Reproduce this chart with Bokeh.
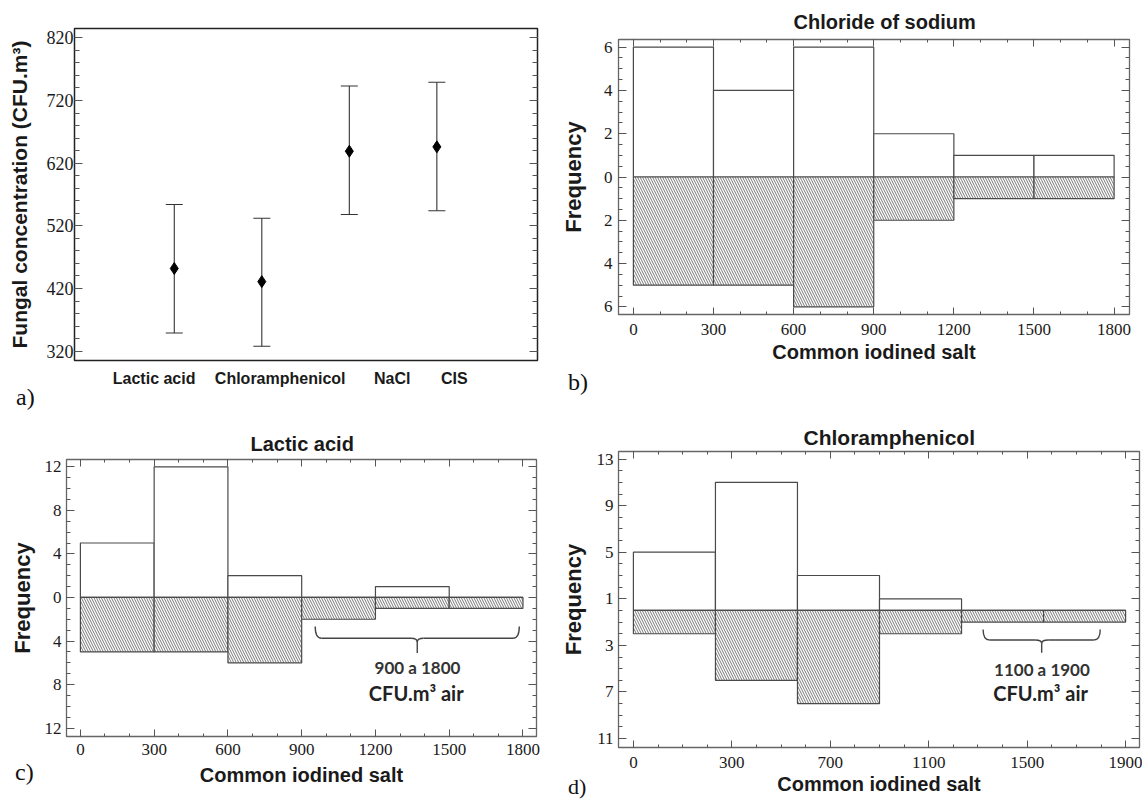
import numpy as np
from bokeh.plotting import figure
from bokeh.models import (Range1d, LinearAxis, FixedTicker, Whisker, ColumnDataSource,
                          Label, TeeHead, CustomJSTickFormatter, Plot, Div)
from bokeh.layouts import column, row
from bokeh.embed import file_html
from bokeh.resources import INLINE

# ---------------- data ----------------
# panel a : mean fungal concentration with error bars
treatments = ["Lactic acid", "Chloramphenicol", "NaCl", "CIS"]
conc_mean = [452, 431, 639, 646]
conc_upper = [554, 532, 743, 749]
conc_lower = [349, 328, 538, 544]

# panel b : Chloride of sodium (top) vs Common iodined salt (bottom)
bins_b = [0, 300, 600, 900, 1200, 1500, 1800]
freq_nacl = [6, 4, 6, 2, 1, 1]
freq_cis_b = [5, 5, 6, 2, 1, 1]

# panel c : Lactic acid (top) vs Common iodined salt (bottom)
bins_c = [0, 300, 600, 900, 1200, 1500, 1800]
freq_lactic = [5, 12, 2, 0, 1, 0]
freq_cis_c = [5, 5, 6, 2, 1, 1]

# panel d : Chloramphenicol (top) vs Common iodined salt (bottom)
bins_d = [0, 316.7, 633.3, 950, 1266.7, 1583.3, 1900]
freq_chlor = [5, 11, 3, 1, 0, 0]
freq_cis_d = [2, 6, 8, 2, 1, 1]
d_tick_labels = ["0", "300", "700", "1100", "1500", "1900"]

# ---------------- style ----------------
TICK_FONT = "Liberation Sans Narrow"
BOLD_FONT = "Liberation Sans"
FRAME = "#666666"
BAR = "#4a4a4a"
TXT = "#1a1a1a"
HAS_FRAME_ALIGN = "frame_align" in Plot.properties()

abs_fmt = CustomJSTickFormatter(code="return Math.abs(tick).toString();")


def style_axis(ax, label_size="17px", tick_in=8, minor_in=4, show_labels=True, standoff=5):
    ax.major_tick_in = tick_in
    ax.major_tick_out = 0
    ax.minor_tick_in = minor_in
    ax.minor_tick_out = 0
    ax.axis_line_color = FRAME
    ax.major_tick_line_color = "#555555"
    ax.minor_tick_line_color = "#555555"
    ax.major_label_text_font = TICK_FONT
    ax.major_label_standoff = standoff
    if show_labels:
        ax.major_label_text_font_size = label_size
        ax.major_label_text_color = TXT
    else:
        ax.major_label_text_font_size = "1px"
        ax.major_label_text_color = None
        ax.major_label_standoff = 0
        ax.axis_label_standoff = 0


def base_fig(width, height, left, right, top, bottom, xr, yr):
    p = figure(width=width, height=height, x_range=Range1d(*xr), y_range=Range1d(*yr),
               output_backend="svg", toolbar_location=None,
               min_border_left=left, min_border_right=right,
               min_border_top=top, min_border_bottom=bottom)
    if HAS_FRAME_ALIGN:
        p.frame_align = False
    p.grid.visible = False
    p.outline_line_color = FRAME
    p.outline_line_width = 1.3
    p.background_fill_color = "white"
    p.border_fill_color = "white"
    return p


def style_title(p, text, offset, standoff, size):
    p.title.text = text
    p.title.align = "left"
    p.title.offset = offset
    p.title.standoff = standoff
    p.title.text_font = BOLD_FONT
    p.title.text_font_style = "bold"
    p.title.text_font_size = size
    p.title.text_color = TXT


def hist_fig(width, height, left, right, top, bottom, xr, yr, bins, up, down,
             xticks, xminor, yticks, yminor, xlab_standoff, ylab_standoff,
             xlabel_std, ylabel_std, x_overrides=None):
    p = base_fig(width, height, left, right, top, bottom, xr, yr)
    xa = p.xaxis[0]
    ya = p.yaxis[0]
    xt = FixedTicker(ticks=list(xticks), minor_ticks=list(xminor))
    yt = FixedTicker(ticks=list(yticks), minor_ticks=list(yminor))
    xa.ticker = xt
    ya.ticker = yt
    ya.formatter = abs_fmt
    if x_overrides:
        xa.major_label_overrides = x_overrides
    style_axis(xa, tick_in=7, minor_in=3, standoff=xlab_standoff)
    style_axis(ya, tick_in=8, minor_in=4, standoff=ylab_standoff)

    xa.axis_label = "Common iodined salt"
    ya.axis_label = "Frequency"
    for ax, std, size in ((xa, xlabel_std, "20px"), (ya, ylabel_std, "22px")):
        ax.axis_label_text_font = BOLD_FONT
        ax.axis_label_text_font_style = "bold"
        ax.axis_label_text_font_size = size
        ax.axis_label_text_color = TXT
        ax.axis_label_standoff = std

    top_ax = LinearAxis(ticker=xt)
    right_ax = LinearAxis(ticker=yt)
    style_axis(top_ax, tick_in=7, minor_in=3, show_labels=False)
    style_axis(right_ax, tick_in=8, minor_in=4, show_labels=False)
    p.add_layout(top_ax, "above")
    p.add_layout(right_ax, "right")

    left_e = bins[:-1]
    right_e = bins[1:]
    p.quad(left=left_e, right=right_e, bottom=0, top=up, fill_color="white",
           line_color=BAR, line_width=1.2)
    p.quad(left=left_e, right=right_e, top=0, bottom=[-v for v in down],
           fill_color="white", hatch_pattern="\\", hatch_color="#555555",
           hatch_scale=5, hatch_weight=0.8, line_color=BAR, line_width=1.2)
    return p


def add_text(p, x, y, text, size, font=BOLD_FONT, style="bold", align="center", color=TXT):
    p.add_layout(Label(x=x, y=y, text=text, text_font=font, text_font_style=style,
                       text_font_size=size, text_align=align, text_baseline="middle",
                       text_color=color))


def brace(p, x0, x1, y_end, y_line, y_tip, dx, h):
    xc = (x0 + x1) / 2
    col = "#444444"
    p.quadratic(x0=[x0, x1 - dx, xc - dx, xc + dx], y0=[y_end, y_line, y_line, y_line],
                x1=[x0 + dx, x1, xc, xc], y1=[y_line, y_end, y_line - h, y_line - h],
                cx=[x0, x1, xc, xc], cy=[y_line, y_line, y_line, y_line],
                line_color=col, line_width=1.4)
    p.segment(x0=[x0 + dx, xc + dx, xc], y0=[y_line, y_line, y_line - h],
              x1=[xc - dx, x1 - dx, xc], y1=[y_line, y_line, y_tip],
              line_color=col, line_width=1.4)


def letter(text, left, top, size="24px"):
    return Div(text=text, width=30, height=28,
               styles={"position": "absolute", "left": f"{left}px", "top": f"{top}px",
                       "font-family": "Liberation Serif", "font-size": size,
                       "line-height": "1", "color": "#111111"})


# ---------------- panel a ----------------
pa = base_fig(557, 419, 74, 20, 28, 59, (-0.14, 5.15), (305.2, 834.8))
pa.outline_line_color = "#222222"
pa.outline_line_width = 1.5
xa_a = pa.xaxis[0]
ya_a = pa.yaxis[0]
xpos = list(range(1, len(treatments) + 1))
src = ColumnDataSource(dict(x=xpos, mean=conc_mean, upper=conc_upper, lower=conc_lower))
pa.add_layout(Whisker(base="x", upper="upper", lower="lower", source=src,
                      line_color="#333333", line_width=1.1,
                      upper_head=TeeHead(size=17, line_color="#333333", line_width=1.1),
                      lower_head=TeeHead(size=17, line_color="#333333", line_width=1.1)))
pa.scatter(x="x", y="mean", source=src, marker="diamond", size=12, color="black")

ya_t = FixedTicker(ticks=list(np.arange(320, 821, 100)), minor_ticks=list(np.arange(320, 821, 20)))
ya_a.ticker = ya_t
style_axis(ya_a, label_size="18px", tick_in=8, minor_in=5, standoff=1)
ya_a.axis_line_color = "#222222"
ya_a.axis_label = "Fungal concentration (CFU.m³)"
ya_a.axis_label_text_font = BOLD_FONT
ya_a.axis_label_text_font_style = "bold"
ya_a.axis_label_text_font_size = "21px"
ya_a.axis_label_text_color = TXT
ya_a.axis_label_standoff = 13

label_pos = [0.77, 2.21, 3.49, 4.2]
xa_a.ticker = FixedTicker(ticks=label_pos, minor_ticks=[])
xa_a.major_label_overrides = {label_pos[i]: treatments[i] for i in range(len(treatments))}
xa_a.major_tick_in = 0
xa_a.major_tick_out = 0
xa_a.minor_tick_in = 0
xa_a.minor_tick_out = 0
xa_a.axis_line_color = "#222222"
xa_a.major_label_text_font = BOLD_FONT
xa_a.major_label_text_font_style = "bold"
xa_a.major_label_text_font_size = "16px"
xa_a.major_label_text_color = TXT
xa_a.major_label_standoff = 9

ra = LinearAxis(ticker=ya_t)
style_axis(ra, tick_in=8, minor_in=5, show_labels=False)
ra.axis_line_color = "#222222"
pa.add_layout(ra, "right")

# ---------------- panel b ----------------
pb = hist_fig(585, 419, 57, 13, 39, 105, (-55.7, 1857.6), (-6.355, 6.355), bins_b,
              freq_nacl, freq_cis_b,
              np.arange(0, 1801, 300), np.arange(0, 1801, 100),
              np.arange(-6, 7, 2), np.arange(-6, 6.01, 0.5), 9, 6, 3, 15)
style_title(pb, "Chloride of sodium", 175, 14, "20px")

# ---------------- panel c ----------------
pc = hist_fig(557, 381, 66, 21, 40, 64, (-56.5, 1855), (-12.77, 12.67), bins_c,
              freq_lactic, freq_cis_c,
              np.arange(0, 1801, 300), np.arange(0, 1801, 100),
              np.arange(-12, 13, 4), np.arange(-12, 12.01, 1), 7, 5, 6, 7)
style_title(pc, "Lactic acid", 184, 10, "20px")
brace(pc, 955, 1785, -2.67, -3.74, -5.1, 25, 0.35)
add_text(pc, 1371, -6.47, "900 a 1800", "17px", font="Lato", color="#333333")
add_text(pc, 1366, -8.77, "CFU.m³ air", "20px", font="Lato", color="#222222")

# ---------------- panel d ----------------
d_ticks = [0, 380, 760, 1140, 1520, 1900]
pd_ = hist_fig(585, 381, 57, 3, 32, 53, (-57.5, 1953.6), (-11.77, 13.65), bins_d,
               freq_chlor, freq_cis_d,
               d_ticks, np.arange(0, 1901, 95),
               np.arange(-11, 14, 4), np.arange(-11, 13.01, 1), 9, 5, 2, 8,
               x_overrides={d_ticks[i]: d_tick_labels[i] for i in range(len(d_ticks))})
style_title(pd_, "Chloramphenicol", 185, 6, "21px")
brace(pd_, 1350, 1802, -1.63, -2.54, -3.63, 25, 0.3)
add_text(pd_, 1577, -5.06, "1100 a 1900", "17px", font="Lato", color="#333333")
add_text(pd_, 1572, -7.1, "CFU.m³ air", "20px", font="Lato", color="#222222")

layout = column(row(pa, pb), row(pc, pd_),
                letter("a)", 11, 380), letter("b)", 563, 365),
                letter("c)", 10, 755), letter("d)", 563, 771, "22px"),
                styles={"position": "relative"})
open("out.html", "w").write(file_html(layout, INLINE))
